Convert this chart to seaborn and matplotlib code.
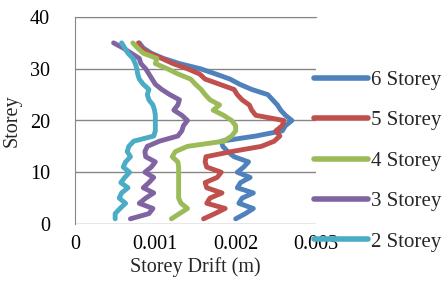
import numpy as np
import pandas as pd
import seaborn as sns
import matplotlib.pyplot as plt

# storey number and drift (m) for each building
storeys = list(range(1, 36))
drift_6 = [0.00200, 0.00212, 0.00222, 0.00204, 0.00208, 0.00222, 0.00202, 0.00206, 0.00218, 0.00202,
           0.00210, 0.00216, 0.00198, 0.00190, 0.00184, 0.00182, 0.00225, 0.00258, 0.00262, 0.00270,
           0.00262, 0.00256, 0.00252, 0.00246, 0.00240, 0.00220, 0.00205, 0.00193, 0.00175, 0.00156,
           0.00130, 0.00110, 0.00095, 0.00085, 0.00080]
drift_5 = [0.00160, 0.00174, 0.00187, 0.00164, 0.00168, 0.00183, 0.00164, 0.00162, 0.00177, 0.00182,
           0.00164, 0.00162, 0.00163, 0.00195, 0.00232, 0.00248, 0.00255, 0.00250, 0.00258, 0.00260,
           0.00225, 0.00220, 0.00217, 0.00208, 0.00202, 0.00198, 0.00180, 0.00162, 0.00155, 0.00140,
           0.00122, 0.00108, 0.00092, 0.00082, 0.00079]
drift_4 = [0.00120, 0.00130, 0.00140, 0.00132, 0.00129, 0.00129, 0.00129, 0.00129, 0.00129, 0.00129,
           0.00129, 0.00128, 0.00121, 0.00125, 0.00140, 0.00185, 0.00195, 0.00200, 0.00200, 0.00195,
           0.00185, 0.00172, 0.00180, 0.00168, 0.00162, 0.00157, 0.00150, 0.00144, 0.00128, 0.00115,
           0.00100, 0.00102, 0.00085, 0.00078, 0.00072]
drift_3 = [0.00069, 0.00092, 0.00097, 0.00080, 0.00088, 0.00098, 0.00085, 0.00092, 0.00098, 0.00087,
           0.00095, 0.00100, 0.00088, 0.00087, 0.00090, 0.00105, 0.00128, 0.00133, 0.00135, 0.00140,
           0.00133, 0.00123, 0.00128, 0.00130, 0.00118, 0.00108, 0.00100, 0.00096, 0.00092, 0.00088,
           0.00082, 0.00080, 0.00070, 0.00060, 0.00048]
drift_2 = [0.00050, 0.00050, 0.00056, 0.00063, 0.00055, 0.00058, 0.00066, 0.00057, 0.00062, 0.00068,
           0.00060, 0.00063, 0.00069, 0.00065, 0.00067, 0.00073, 0.00098, 0.00100, 0.00100, 0.00100,
           0.00100, 0.00099, 0.00097, 0.00092, 0.00090, 0.00092, 0.00085, 0.00080, 0.00078, 0.00077,
           0.00075, 0.00072, 0.00066, 0.00062, 0.00058]
labels = ['6 Storey', '5 Storey', '4 Storey', '3 Storey', '2 Storey']
colors = ['#4F81BD', '#C0504D', '#9BBB59', '#8064A2', '#4BACC6']

#build long table for seaborn
frames = []
for lab, d in zip(labels, [drift_6, drift_5, drift_4, drift_3, drift_2]):
    frames.append(pd.DataFrame({'drift': d, 'storey': storeys, 'series': lab}))
df = pd.concat(frames, ignore_index=True)

sns.set_style('white')
plt.rcParams['font.family'] = ['Liberation Serif', 'DejaVu Serif']

fig = plt.figure(figsize=(4.46, 2.89), dpi=100)
ax = fig.add_axes([75/446, 1-224/289, (316-75)/446, (224-17)/289])

sns.lineplot(data=df, x='drift', y='storey', hue='series', hue_order=labels, palette=colors,
             sort=False, estimator=None, lw=3.5, ax=ax, legend=True,
             solid_capstyle='round', solid_joinstyle='round')

ax.set_xlim(0, 0.003)
ax.set_ylim(0, 40)
ax.set_xticks([0, 0.001, 0.002, 0.003])
ax.set_xticklabels(['0', '0.001', '0.002', '0.003'])
ax.set_yticks([0, 10, 20, 30, 40])
ax.yaxis.grid(True, color='#868686', lw=1)
ax.set_axisbelow(True)
for s in ['right', 'bottom']:
    ax.spines[s].set_visible(False)
ax.spines['top'].set_color('#868686')
ax.spines['left'].set_color('#868686')
ax.tick_params(axis='both', length=0, labelsize=14.5, colors='black')
ax.tick_params(axis='y', pad=18)
ax.tick_params(axis='x', pad=8)
ax.set_xlabel('Storey Drift (m)', fontsize=14.5, labelpad=2)
ax.set_ylabel('Storey', fontsize=14.5, labelpad=6)

#legend outside on the right
handles, labs = ax.get_legend_handles_labels()
ax.get_legend().remove()
for h in handles:
    h.set_linewidth(4)
    h.set_solid_capstyle('round')
fig.legend(handles, labs, loc='center left', bbox_to_anchor=(314/446, 1-161/289),
           frameon=False, fontsize=15, handlelength=2.6, handletextpad=0.15,
           labelspacing=1.0, borderpad=0, borderaxespad=0)

fig.savefig('out.png', dpi=100)
